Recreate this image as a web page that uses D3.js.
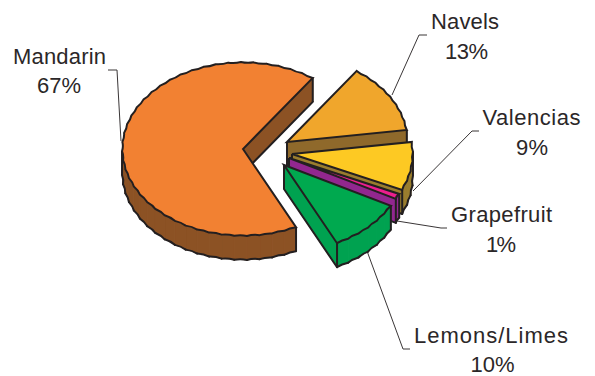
<!DOCTYPE html>
<html><head><meta charset="utf-8">
<script src="https://cdnjs.cloudflare.com/ajax/libs/d3/7.8.5/d3.min.js"></script>
<style>html,body{margin:0;background:#fff}svg{display:block}text{font-family:"Liberation Sans",Arial,sans-serif;font-size:22px;fill:#2b2728;text-anchor:middle}</style>
</head><body><svg id="c" width="595" height="376"></svg>
<script>
const categories=["Mandarin","Navels","Valencias","Grapefruit","Lemons/Limes"];
const values=[67,13,9,1,10];
const percentLabels=["67%","13%","9%","1%","10%"];
const topColors=["#f28132","#f0a62c","#fdc923","#ec1e8e","#00a94f"];
const sideColors=["#8c5224","#8f692b","#9a7d2e","#92278f","#00a250"];
// layout
const centers=[[243,149],[287,142],[292,154],[289,158],[284,165]];
const namePos=[[59.5,64],[465,29],[531.5,125],[501.5,222],[491,343]];
const pctPos=[[59,93],[466.5,59],[532,155],[501,252],[492.5,372]];
const nameWidths=[93,68,98,101,154];
const pctWidths=[44,43,32,30,44];
const leaders=[
 [[108,70],[117,70],[121,141]],
 [[427,35],[419,35],[392,95]],
 [[479,131],[472,131],[413,191]],
 [[447,228],[441,228],[397,221]],
 [[410,349],[403,349],[367,251]]];
const rx=121,ry=87,depth=24,stepDeg=6,pull=1.3;

const svg=d3.select("#c");
const stroke="#231f20";
const scaleX=d3.scaleLinear().domain([-1,1]).range([-rx,rx]);
const scaleY=d3.scaleLinear().domain([-1,1]).range([-ry,ry]);
const pie=d3.pie().sort(null).value(d=>d)
  .startAngle(154*Math.PI/180).endAngle((154+360)*Math.PI/180);
const arcs=pie(values);
const line=d3.line();

svg.append("g").selectAll("path").data(leaders).join("path")
  .attr("d",d=>line(d)).attr("fill","none").attr("stroke","#3a3637").attr("stroke-width",1);

function ctrl(a,b,c){
  const mx=(a[0]+b[0])/2,my=(a[1]+b[1])/2,dx=c[0]-mx,dy=c[1]-my,l=Math.hypot(dx,dy)||1;
  return [mx+dx/l*pull,my+dy/l*pull];
}
const g=svg.append("g");
arcs.forEach((a,i)=>{
  const [cx,cy]=centers[i];
  const n=Math.max(1,Math.round((a.endAngle-a.startAngle)/(stepDeg*Math.PI/180)));
  const angs=d3.range(n+1).map(k=>a.startAngle+(a.endAngle-a.startAngle)*k/n);
  const rim=angs.map(t=>[cx+scaleX(Math.sin(t)),cy+scaleY(-Math.cos(t))]);
  const poly=[[cx,cy],...rim];
  const last=poly.length-1;
  const isRim=k=>k>=1&&k<last;
  const walls=[],lower=[],verts=[];
  poly.forEach((p,k)=>{
    const q=poly[(k+1)%poly.length];
    const prev=poly[(k-1+poly.length)%poly.length];
    const out=q[0]-p[0]<0, inc=p[0]-prev[0]<0;
    if(out){
      const p2=[p[0],p[1]+depth],q2=[q[0],q[1]+depth];
      const low=isRim(k)
        ?`M${p2}Q${ctrl(p2,q2,[cx,cy+depth])} ${q2}`
        :`M${p2}L${q2}`;
      walls.push(`M${p}L${q}L${q2}`+(isRim(k)?`Q${ctrl(p2,q2,[cx,cy+depth])} ${p2}`:`L${p2}`)+"Z");
      lower.push(low);
    }
    if((out||inc)&&(out!==inc||k===0||k===last)) verts.push([p,[p[0],p[1]+depth]]);
  });
  g.append("g").selectAll("path").data(walls).join("path")
    .attr("d",d=>d).attr("fill",sideColors[i]).attr("stroke",sideColors[i]).attr("stroke-width",1);
  g.append("g").selectAll("path").data(lower).join("path")
    .attr("d",d=>d).attr("fill","none").attr("stroke",stroke).attr("stroke-width",2).attr("stroke-linecap","round");
  g.append("g").selectAll("path").data(verts).join("path")
    .attr("d",d=>line(d)).attr("fill","none").attr("stroke",stroke).attr("stroke-width",2);
  let top=`M${cx},${cy}L${rim[0]}`;
  for(let k=0;k<n;k++) top+=`Q${ctrl(rim[k],rim[k+1],[cx,cy])} ${rim[k+1]}`;
  g.append("path").attr("d",top+"Z")
    .attr("fill",topColors[i]).attr("stroke",stroke).attr("stroke-width",2).attr("stroke-linejoin","miter");
});

const labels=svg.append("g").selectAll("g").data(categories).join("g");
labels.append("text").attr("x",(d,i)=>namePos[i][0]).attr("y",(d,i)=>namePos[i][1])
  .attr("textLength",(d,i)=>nameWidths[i]).attr("lengthAdjust","spacing").text(d=>d);
labels.append("text").attr("x",(d,i)=>pctPos[i][0]).attr("y",(d,i)=>pctPos[i][1])
  .attr("textLength",(d,i)=>pctWidths[i]).attr("lengthAdjust","spacing").text((d,i)=>percentLabels[i]);
</script></body></html>
